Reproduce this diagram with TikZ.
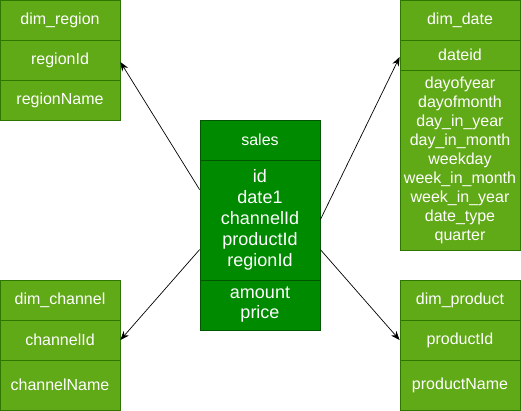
\documentclass[tikz,border=0pt]{standalone}
\usepackage{fontspec}
\setmainfont{Liberation Sans}
\usetikzlibrary{arrows.meta,calc}
\definecolor{dimfill}{HTML}{60A917}
\definecolor{dimline}{HTML}{2D7600}
\definecolor{salesfill}{HTML}{008A00}
\definecolor{salesline}{HTML}{005700}
\tikzset{
  dimrow/.style={draw=dimline, fill=dimfill, line width=0.8pt, text=white, minimum width=120pt, inner sep=0pt, align=center, font=\fontsize{16}{19}\selectfont},
  salesrow/.style={draw=salesline, fill=salesfill, line width=0.8pt, text=white, minimum width=120pt, inner sep=0pt, align=center, font=\fontsize{18}{21}\selectfont},
  link/.style={draw=black, line width=0.7pt, -{Stealth[length=9pt,width=7pt]}}
}
\begin{document}
\begin{tikzpicture}[x=1pt,y=-1pt]
\useasboundingbox (0,0) rectangle (521,411);
% dim_region
\node[dimrow, minimum height=40pt] (region_t) at (60,20) {dim\_region};
\node[dimrow, minimum height=40pt] (region_id) at (60,60) {regionId};
\node[dimrow, minimum height=40pt] (region_name) at (60,100) {regionName};
% dim_date
\node[dimrow, minimum height=40pt] (date_t) at (460,20) {dim\_date};
\node[dimrow, minimum height=30pt] (date_id) at (460,55) {dateid};
\node[dimrow, minimum height=180pt] (date_attrs) at (460,160) {dayofyear\\dayofmonth\\day\_in\_year\\day\_in\_month\\weekday\\week\_in\_month\\week\_in\_year\\date\_type\\quarter};
% dim_channel
\node[dimrow, minimum height=40pt] (channel_t) at (60,300) {dim\_channel};
\node[dimrow, minimum height=40pt] (channel_id) at (60,340) {channelId};
\node[dimrow, minimum height=50pt] (channel_name) at (60,385) {channelName};
% dim_product
\node[dimrow, minimum height=40pt] (product_t) at (460,300) {dim\_product};
\node[dimrow, minimum height=40pt] (product_id) at (460,340) {productId};
\node[dimrow, minimum height=50pt] (product_name) at (460,385) {productName};
% sales
\node[salesrow, minimum height=40pt, font=\fontsize{16}{19}\selectfont] (sales_t) at (260,140) {sales};
\node[salesrow, minimum height=120pt] (sales_keys) at (260,220) {id\\date1\\channelId\\productId\\regionId};
\node[salesrow, minimum height=50pt, font=\fontsize{18}{20}\selectfont] (sales_meas) at (260,305) {amount\\price};
% connectors
\draw[link] ($(sales_keys.north west)+(0,30)$) -- ($(region_id.east)+(0,2)$);
\draw[link] ($(sales_keys.north west)+(0,90)$) -- (channel_id.east);
\draw[link] ($(sales_keys.north east)+(0,60)$) -- ($(date_id.west)+(0,2)$);
\draw[link] ($(sales_keys.north east)+(0,90)$) -- (product_id.west);
\end{tikzpicture}
\end{document}
